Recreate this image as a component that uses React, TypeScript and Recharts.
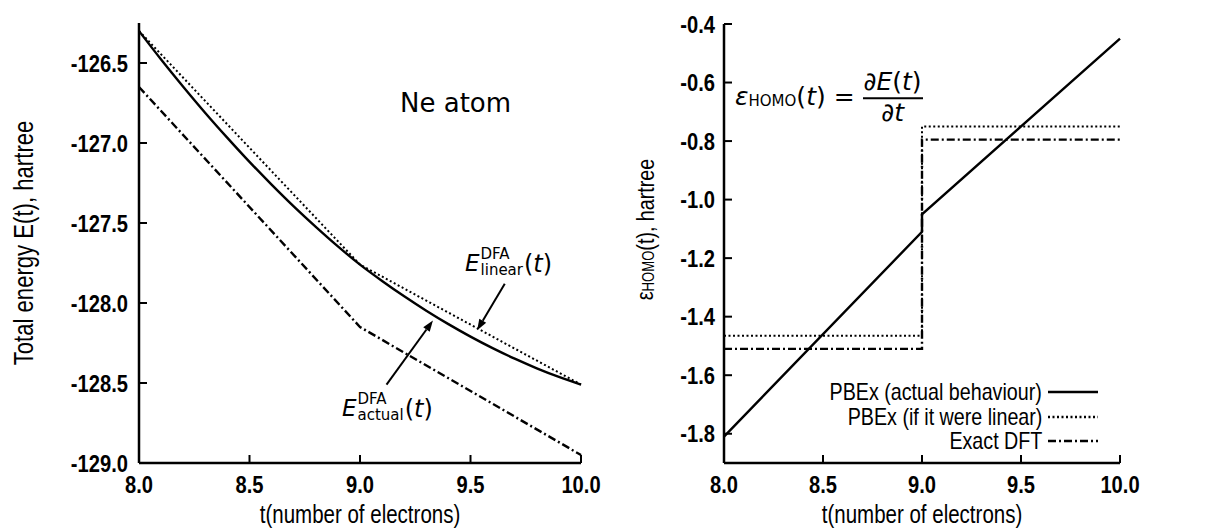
import { LineChart, Line, XAxis, YAxis, ReferenceLine, Legend } from "recharts";

// Liberation Sans squeezed horizontally stands in for the narrow face of the original
const SANS = "'Liberation Sans', Arial, sans-serif";
const SQUEEZE = 0.84;
const MATH = "'DejaVu Sans', sans-serif";
const DOT = "2 2.5";
const DASHDOT = "8 3 2 3";

// axis ticks
const T_TICKS = [8, 8.5, 9, 9.5, 10];
const E_TICKS = [-129, -128.5, -128, -127.5, -127, -126.5];
const HOMO_TICKS = [-1.8, -1.6, -1.4, -1.2, -1.0, -0.8, -0.6, -0.4];

// left panel: total energy
const T_FINE = [8.0, 8.1, 8.2, 8.3, 8.4, 8.5, 8.6, 8.7, 8.8, 8.9, 9.0, 9.1, 9.2, 9.3, 9.4, 9.5, 9.6, 9.7, 9.8, 9.9, 10.0];
const E_ACTUAL = [-126.300, -126.478, -126.648, -126.812, -126.968, -127.118, -127.260, -127.396, -127.524, -127.646, -127.760,
  -127.862, -127.958, -128.048, -128.132, -128.210, -128.282, -128.348, -128.408, -128.462, -128.510];
const T_KNOTS = [8, 9, 10];
const E_LINEAR = [-126.30, -127.76, -128.51];
const E_EXACT = [-126.65, -128.15, -128.95];

// right panel: HOMO energy
const T_STEP = [8, 9, 9, 10];
const HOMO_ACTUAL = [-1.81, -1.11, -1.05, -0.45];
const HOMO_LINEAR = [-1.465, -1.465, -0.75, -0.75];
const HOMO_EXACT = [-1.51, -1.51, -0.795, -0.795];

const LEGEND_NAMES = ["PBEx (actual behaviour)", "PBEx (if it were linear)", "Exact DFT"];
const LEGEND_DASH = [undefined, DOT, DASHDOT];

function pts(ts: number[], vs: number[]) {
  return ts.map((t, i) => ({ t, v: vs[i] }));
}

const axisLine = { stroke: "#000", strokeWidth: 2.5 };
const tickLine = { stroke: "#000", strokeWidth: 2 };

function XTick(p: any) {
  return (
    <g transform={`translate(${p.x},${p.y})`}>
      <text transform={`scale(${SQUEEZE},1)`} textAnchor="middle" dy="0.71em" fontFamily={SANS}
        fontSize={24} fontWeight={700} fill="#000">
        {Number(p.payload.value).toFixed(1)}
      </text>
    </g>
  );
}

function YTick(p: any) {
  return (
    <g transform={`translate(${p.x},${p.y})`}>
      <text transform={`scale(${SQUEEZE},1)`} textAnchor="end" dy="0.36em" fontFamily={SANS}
        fontSize={24} fontWeight={700} fill="#000">
        {Number(p.payload.value).toFixed(1)}
      </text>
    </g>
  );
}

function Arrow(p: any) {
  const { x1, y1, x2, y2 } = p;
  const a = Math.atan2(y2 - y1, x2 - x1);
  const L = 11, W = 4;
  const bx = x2 - L * Math.cos(a), by = y2 - L * Math.sin(a);
  const q1 = `${bx + W * Math.sin(a)},${by - W * Math.cos(a)}`;
  const q2 = `${bx - W * Math.sin(a)},${by + W * Math.cos(a)}`;
  return (
    <g>
      <line x1={x1} y1={y1} x2={bx} y2={by} stroke="#000" strokeWidth={2} />
      <polygon points={`${x2},${y2} ${q1} ${q2}`} fill="#000" />
    </g>
  );
}

function xTitle(p: any) {
  const vb = p.viewBox;
  const cx = vb.x + vb.width / 2, cy = vb.y + 51;
  return (
    <g transform={`translate(${cx},${cy}) scale(0.82,1)`}>
      <text textAnchor="middle" dominantBaseline="central" fontFamily={SANS} fontSize={25} fill="#000">
        t(number of electrons)
      </text>
    </g>
  );
}

function yTitle(dx: number, dy: number, size: number, body: any) {
  return (p: any) => {
    const vb = p.viewBox;
    const cx = vb.x + dx, cy = vb.y + vb.height / 2 + dy;
    return (
      <g transform={`translate(${cx},${cy}) rotate(-90) scale(0.82,1)`}>
        <text textAnchor="middle" dominantBaseline="central" fontFamily={SANS} fontSize={size} fill="#000">
          {body}
        </text>
      </g>
    );
  };
}

function LegendBox() {
  return (
    <div style={{ fontFamily: SANS, fontSize: 24, color: "#000" }}>
      {LEGEND_NAMES.map((name, i) => (
        <div key={name} style={{ display: "flex", alignItems: "center", height: 24.5 }}>
          <div style={{ width: 300, textAlign: "right", whiteSpace: "nowrap" }}>
            <span style={{ display: "inline-block", transform: "scaleX(0.82)", transformOrigin: "right center" }}>{name}</span>
          </div>
          <svg width={56} height={10} style={{ marginLeft: 6 }}>
            <line x1={0} y1={5} x2={50} y2={5} stroke="#000" strokeWidth={2.3} strokeDasharray={LEGEND_DASH[i]} />
          </svg>
        </div>
      ))}
    </div>
  );
}

function EnergyPanel() {
  return (
    <LineChart width={610} height={531} margin={{ top: 23, right: 29, bottom: 0, left: 0 }}>
      <XAxis xAxisId="b" type="number" dataKey="t" domain={[8, 10]} ticks={T_TICKS} interval={0}
        height={68} tickSize={-8} tickMargin={21} axisLine={axisLine} tickLine={tickLine} tick={<XTick />}
        label={{ content: xTitle }} />
      <XAxis xAxisId="top" orientation="top" type="number" dataKey="t" domain={[8, 10]} ticks={T_TICKS} interval={0}
        height={0} tickSize={-8} tick={false} axisLine={axisLine} tickLine={tickLine} />
      <YAxis yAxisId="l" type="number" domain={[-129, -126.25]} ticks={E_TICKS} interval={0}
        width={139} tickSize={-8} tickMargin={19} axisLine={axisLine} tickLine={tickLine} tick={<YTick />}
        label={{ content: yTitle(24, 0, 27, "Total energy E(t), hartree") }} />
      <YAxis yAxisId="r" orientation="right" type="number" domain={[-129, -126.25]} ticks={E_TICKS} interval={0}
        width={0} tickSize={-8} tick={false} axisLine={axisLine} tickLine={tickLine} />
      <Line xAxisId="b" yAxisId="l" data={pts(T_FINE, E_ACTUAL)} dataKey="v" type="monotone" stroke="#000"
        strokeWidth={2.4} dot={false} isAnimationActive={false} />
      <Line xAxisId="b" yAxisId="l" data={pts(T_KNOTS, E_LINEAR)} dataKey="v" type="linear" stroke="#000"
        strokeWidth={2} strokeDasharray={DOT} dot={false} isAnimationActive={false} />
      <Line xAxisId="b" yAxisId="l" data={pts(T_KNOTS, E_EXACT)} dataKey="v" type="linear" stroke="#000"
        strokeWidth={2.4} strokeDasharray={DASHDOT} dot={false} isAnimationActive={false} />
      <ReferenceLine xAxisId="b" yAxisId="l" segment={[{ x: 9.12, y: -128.51 }, { x: 9.33, y: -128.11 }]} shape={Arrow} />
      <ReferenceLine xAxisId="b" yAxisId="l" segment={[{ x: 9.655, y: -127.88 }, { x: 9.53, y: -128.17 }]} shape={Arrow} />
    </LineChart>
  );
}

function HomoPanel() {
  const epsTitle = (
    <>
      ε<tspan fontSize={16} dy={4}>HOMO</tspan><tspan dy={-4}>(t), hartree</tspan>
    </>
  );
  return (
    <LineChart width={605} height={531} margin={{ top: 24, right: 95, bottom: 0, left: 0 }}>
      <XAxis xAxisId="b" type="number" dataKey="t" domain={[8, 10]} ticks={T_TICKS} interval={0}
        height={68} tickSize={-8} tickMargin={21} axisLine={axisLine} tickLine={tickLine} tick={<XTick />}
        label={{ content: xTitle }} />
      <XAxis xAxisId="top" orientation="top" type="number" dataKey="t" domain={[8, 10]} ticks={T_TICKS} interval={0}
        height={0} tickSize={-8} tick={false} axisLine={axisLine} tickLine={tickLine} />
      <YAxis yAxisId="l" type="number" domain={[-1.9, -0.4]} ticks={HOMO_TICKS} interval={0}
        width={114} tickSize={-8} tickMargin={17} axisLine={axisLine} tickLine={tickLine} tick={<YTick />}
        label={{ content: yTitle(35, -14, 24, epsTitle) }} />
      <YAxis yAxisId="r" orientation="right" type="number" domain={[-1.9, -0.4]} ticks={HOMO_TICKS} interval={0}
        width={0} tickSize={-8} tick={false} axisLine={axisLine} tickLine={tickLine} />
      <Line xAxisId="b" yAxisId="l" name={LEGEND_NAMES[0]} data={pts(T_STEP, HOMO_ACTUAL)} dataKey="v" type="linear"
        stroke="#000" strokeWidth={2.4} dot={false} isAnimationActive={false} />
      <Line xAxisId="b" yAxisId="l" name={LEGEND_NAMES[1]} data={pts(T_STEP, HOMO_LINEAR)} dataKey="v" type="linear"
        stroke="#000" strokeWidth={2} strokeDasharray={DOT} dot={false} isAnimationActive={false} />
      <Line xAxisId="b" yAxisId="l" name={LEGEND_NAMES[2]} data={pts(T_STEP, HOMO_EXACT)} dataKey="v" type="linear"
        stroke="#000" strokeWidth={2.4} strokeDasharray={DASHDOT} dot={false} isAnimationActive={false} />
      <Legend layout="vertical" align="center" verticalAlign="middle" content={LegendBox}
        wrapperStyle={{ left: 132, top: 380, width: 370 }} />
    </LineChart>
  );
}

function ELabel({ sub, left, cy }: { sub: string; left: number; cy: number }) {
  return (
    <div style={{ position: "absolute", left, top: cy, transform: "translateY(-50%)", display: "flex",
      alignItems: "center", fontFamily: MATH, color: "#000", lineHeight: 1 }}>
      <span style={{ fontSize: 23, fontStyle: "italic" }}>E</span>
      <span style={{ display: "flex", flexDirection: "column", fontSize: 15, lineHeight: "16px", marginTop: -3, marginLeft: 1 }}>
        <span>DFA</span>
        <span>{sub}</span>
      </span>
      <span style={{ fontSize: 24, marginLeft: 1 }}>(<i>t</i>)</span>
    </div>
  );
}

export default function App() {
  return (
    <div style={{ position: "absolute", left: 0, top: 0, width: 1215, height: 531, background: "#fff", overflow: "hidden" }}>
      <div style={{ position: "absolute", left: 0, top: 0 }}><EnergyPanel /></div>
      <div style={{ position: "absolute", left: 610, top: 0 }}><HomoPanel /></div>

      <div style={{ position: "absolute", left: 400, top: 103, transform: "translateY(-50%)", fontFamily: MATH,
        fontSize: 26, lineHeight: 1, color: "#000" }}>Ne atom</div>
      <ELabel sub="linear" left={465} cy={263} />
      <ELabel sub="actual" left={342} cy={408} />

      <div style={{ position: "absolute", left: 735, top: 98, transform: "translateY(-50%)", display: "flex",
        alignItems: "center", fontFamily: MATH, fontSize: 25, color: "#000", lineHeight: 1.15 }}>
        <span style={{ fontStyle: "italic" }}>ε</span>
        <span style={{ fontSize: 15, position: "relative", top: 4 }}>HOMO</span>
        <span>(<i>t</i>)&nbsp;=&nbsp;</span>
        <span style={{ display: "inline-flex", flexDirection: "column", alignItems: "center" }}>
          <span style={{ padding: "0 1px" }}>∂<i>E</i>(<i>t</i>)</span>
          <span style={{ borderTop: "2px solid #000", alignSelf: "stretch", textAlign: "center" }}>∂<i>t</i></span>
        </span>
      </div>
    </div>
  );
}
